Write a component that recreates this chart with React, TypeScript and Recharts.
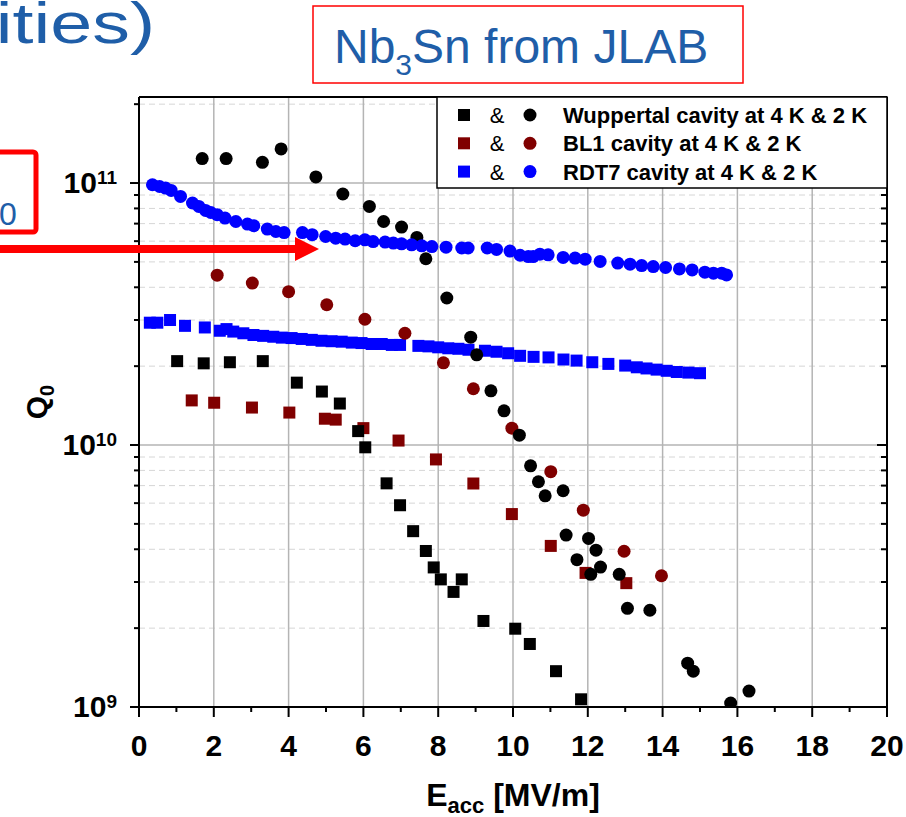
import React from "react";
import { ScatterChart, Scatter, XAxis, YAxis, CartesianGrid } from "recharts";

const FONT = "'Liberation Sans', Arial, sans-serif";
const NOTE_BLUE = "#1f5ea8";
const RED = "#ff0000";
const MAROON = "#800000";
const BLUE = "#0000ff";

// E_acc [MV/m], Q0
const wupp4K: [number, number][] = [
  [1.02, 2.09e10], [1.73, 2.05e10], [2.43, 2.07e10], [3.31, 2.09e10], [4.22, 1.73e10],
  [4.89, 1.6e10], [5.37, 1.44e10], [5.86, 1.13e10], [6.05, 9.8e9], [6.62, 7.14e9],
  [6.98, 5.89e9], [7.33, 4.69e9], [7.67, 3.94e9], [7.88, 3.41e9], [8.07, 3.07e9],
  [8.41, 2.75e9], [8.63, 3.07e9], [9.21, 2.13e9], [10.06, 1.99e9], [10.45, 1.74e9],
  [11.15, 1.37e9], [11.82, 1.07e9],
];
const wupp2K: [number, number][] = [
  [1.69, 1.24e11], [2.33, 1.24e11], [3.3, 1.2e11], [3.8, 1.35e11], [4.73, 1.055e11],
  [5.45, 9.08e10], [6.16, 8.14e10], [6.54, 7.13e10], [7.02, 6.79e10], [7.43, 6.2e10],
  [7.67, 5.14e10], [8.23, 3.64e10], [8.87, 2.58e10], [9.03, 2.21e10], [9.41, 1.61e10],
  [9.76, 1.35e10], [10.17, 1.09e10], [10.47, 8.33e9], [10.68, 7.24e9], [10.86, 6.4e9],
  [11.34, 6.69e9], [11.42, 4.53e9], [11.71, 3.65e9], [12.02, 4.4e9], [12.08, 3.21e9],
  [12.22, 3.97e9], [12.34, 3.42e9], [12.84, 3.21e9], [13.06, 2.38e9], [13.66, 2.34e9],
  [14.67, 1.47e9], [14.82, 1.37e9], [15.82, 1.035e9], [16.31, 1.15e9],
];
const bl1_4K: [number, number][] = [
  [1.41, 1.48e10], [2.01, 1.45e10], [3.02, 1.39e10], [4.02, 1.33e10], [4.97, 1.26e10],
  [5.26, 1.25e10], [6.0, 1.16e10], [6.94, 1.04e10], [7.94, 8.81e9], [8.94, 7.13e9],
  [9.97, 5.45e9], [11.01, 4.12e9], [11.94, 3.25e9], [13.03, 2.97e9],
];
const bl1_2K: [number, number][] = [
  [2.09, 4.45e10], [3.03, 4.15e10], [4.0, 3.85e10], [5.02, 3.43e10], [6.04, 3.02e10],
  [7.11, 2.67e10], [8.14, 2.06e10], [8.94, 1.64e10], [9.97, 1.16e10], [11.01, 7.91e9],
  [11.88, 5.64e9], [12.97, 3.93e9], [13.97, 3.17e9],
];
const rdt7_4K: [number, number][] = [
  [0.29, 2.93e10], [0.49, 2.93e10], [0.83, 3.0e10], [1.23, 2.85e10], [1.76, 2.81e10],
  [2.16, 2.73e10], [2.34, 2.77e10], [2.52, 2.71e10], [2.79, 2.67e10], [3.06, 2.63e10],
  [3.32, 2.61e10], [3.59, 2.59e10], [3.82, 2.57e10], [4.08, 2.56e10], [4.35, 2.54e10],
  [4.62, 2.52e10], [4.88, 2.5e10], [5.15, 2.49e10], [5.42, 2.48e10], [5.69, 2.46e10],
  [5.95, 2.45e10], [6.22, 2.43e10], [6.49, 2.43e10], [6.76, 2.41e10], [6.98, 2.41e10],
  [7.47, 2.39e10], [7.74, 2.38e10], [8.0, 2.36e10], [8.27, 2.34e10], [8.54, 2.33e10],
  [8.81, 2.31e10], [9.25, 2.29e10], [9.56, 2.27e10], [9.87, 2.24e10], [10.19, 2.19e10],
  [10.55, 2.17e10], [10.95, 2.16e10], [11.35, 2.12e10], [11.7, 2.1e10], [12.12, 2.07e10],
  [12.55, 2.04e10], [13.0, 2.01e10], [13.31, 1.98e10], [13.57, 1.96e10], [13.84, 1.94e10],
  [14.11, 1.92e10], [14.38, 1.9e10], [14.69, 1.89e10], [15.0, 1.88e10],
];
const rdt7_2K: [number, number][] = [
  [0.36, 9.85e10], [0.55, 9.7e10], [0.71, 9.57e10], [0.86, 9.37e10], [1.11, 8.89e10],
  [1.43, 8.39e10], [1.6, 8.14e10], [1.78, 7.86e10], [1.92, 7.72e10], [2.09, 7.57e10],
  [2.3, 7.35e10], [2.59, 7.13e10], [2.9, 6.97e10], [3.07, 6.87e10], [3.43, 6.67e10],
  [3.66, 6.53e10], [3.88, 6.47e10], [4.37, 6.47e10], [4.63, 6.35e10], [4.99, 6.25e10],
  [5.26, 6.16e10], [5.51, 6.11e10], [5.78, 6.02e10], [6.04, 6.07e10], [6.26, 5.98e10],
  [6.58, 5.95e10], [6.8, 5.9e10], [7.02, 5.86e10], [7.29, 5.81e10], [7.56, 5.76e10],
  [7.83, 5.72e10], [8.21, 5.69e10], [8.63, 5.65e10], [8.8, 5.65e10], [9.31, 5.65e10],
  [9.56, 5.58e10], [9.92, 5.5e10], [10.19, 5.3e10], [10.41, 5.24e10], [10.54, 5.24e10],
  [10.72, 5.35e10], [10.94, 5.32e10], [11.34, 5.2e10], [11.66, 5.17e10], [11.93, 5.12e10],
  [12.33, 5.02e10], [12.8, 4.95e10], [13.13, 4.9e10], [13.44, 4.84e10], [13.75, 4.8e10],
  [14.08, 4.76e10], [14.45, 4.7e10], [14.79, 4.66e10], [15.13, 4.57e10], [15.36, 4.53e10],
  [15.58, 4.53e10], [15.71, 4.46e10],
];

const legendRows = [
  { color: "#000000", label: "Wuppertal cavity at 4 K & 2 K" },
  { color: MAROON, label: "BL1 cavity at 4 K & 2 K" },
  { color: BLUE, label: "RDT7 cavity at 4 K & 2 K" },
];

const xDomain: [number, number] = [0, 20];
const yDomain: [number, number] = [1e9, 2.13e11];
const xTicks = Array.from({ length: 21 }, (_, i) => i);
const yTicks = [
  1e9, 2e9, 3e9, 4e9, 5e9, 6e9, 7e9, 8e9, 9e9,
  1e10, 2e10, 3e10, 4e10, 5e10, 6e10, 7e10, 8e10, 9e10,
  1e11, 2e11,
];
const xMajorGrid = [2, 4, 6, 8, 10, 12, 14, 16, 18];
const yMajorGrid = [1e10, 1e11];
const yMinorGrid = yTicks.filter((v) => !isDecade(v));

function isDecade(v: number) {
  const l = Math.log10(v);
  return Math.abs(l - Math.round(l)) < 1e-9;
}

const toPts = (arr: [number, number][]) => arr.map(([x, q]) => ({ x, q }));

const square = (color: string) => (p: any) =>
  <rect x={p.cx - 6} y={p.cy - 6} width={12} height={12} fill={color} />;
const circle = (color: string) => (p: any) =>
  <circle cx={p.cx} cy={p.cy} r={6.5} fill={color} />;

const BottomTick = (props: any) => {
  const { x, y, payload } = props;
  const major = payload.value % 2 === 0;
  return (
    <g>
      <line x1={x} x2={x} y1={y} y2={y + (major ? 10 : 5)} stroke="#000" strokeWidth={2} />
      {major && (
        <text x={x} y={y + 49} textAnchor="middle" fontFamily={FONT} fontWeight="bold" fontSize={30} fill="#000">
          {payload.value}
        </text>
      )}
    </g>
  );
};

const TopTick = (props: any) => {
  const { x, y, payload } = props;
  const major = payload.value % 2 === 0;
  return <line x1={x} x2={x} y1={y} y2={y + (major ? 8 : 5)} stroke="#000" strokeWidth={2} />;
};

const LeftTick = (props: any) => {
  const { x, y, payload } = props;
  const v = payload.value;
  const major = isDecade(v);
  return (
    <g>
      <line x1={x - (major ? 9 : 5)} x2={x} y1={y} y2={y} stroke="#000" strokeWidth={2} />
      {major && (
        <text x={x - 22} y={y + 10} textAnchor="end" fontFamily={FONT} fontWeight="bold" fontSize={30} fill="#000">
          10
          <tspan fontSize={19} dy={-9}>{Math.round(Math.log10(v))}</tspan>
        </text>
      )}
    </g>
  );
};

const RightTick = (props: any) => {
  const { x, y, payload } = props;
  const major = isDecade(payload.value);
  return <line x1={x - (major ? 10 : 6)} x2={x} y1={y} y2={y} stroke="#000" strokeWidth={2} />;
};

const axisLine = { stroke: "#000", strokeWidth: 2 };

const App: React.FC = () => {
  return (
    <div style={{ position: "absolute", left: 0, top: 0, width: 906, height: 817, background: "#fff" }}>
      <ScatterChart width={906} height={817} margin={{ top: 96, right: 18, bottom: 109, left: 138 }}>
        <CartesianGrid horizontalValues={yMinorGrid} vertical={false} stroke="#d6d6d6" strokeDasharray="6 4" />
        <CartesianGrid horizontalValues={yMajorGrid} verticalValues={xMajorGrid} stroke="#b4b4b4" strokeWidth={1.5} />
        <XAxis
          dataKey="x"
          type="number"
          domain={xDomain}
          ticks={xTicks}
          interval={0}
          height={1}
          tickSize={0}
          tickMargin={0}
          axisLine={axisLine}
          tick={<BottomTick />}
        />
        <XAxis
          xAxisId="top"
          orientation="top"
          type="number"
          domain={xDomain}
          ticks={xTicks}
          interval={0}
          height={1}
          tickSize={0}
          tickMargin={0}
          axisLine={axisLine}
          tick={<TopTick />}
        />
        <YAxis
          dataKey="q"
          type="number"
          scale="log"
          domain={yDomain}
          allowDataOverflow
          ticks={yTicks}
          interval={0}
          width={1}
          tickSize={0}
          tickMargin={0}
          axisLine={axisLine}
          tick={<LeftTick />}
        />
        <YAxis
          yAxisId="right"
          orientation="right"
          type="number"
          scale="log"
          domain={yDomain}
          allowDataOverflow
          ticks={yTicks}
          interval={0}
          width={1}
          tickSize={0}
          tickMargin={0}
          axisLine={axisLine}
          tick={<RightTick />}
        />
        <Scatter data={toPts(rdt7_4K)} shape={square(BLUE)} isAnimationActive={false} />
        <Scatter data={toPts(bl1_4K)} shape={square(MAROON)} isAnimationActive={false} />
        <Scatter data={toPts(bl1_2K)} shape={circle(MAROON)} isAnimationActive={false} />
        <Scatter data={toPts(wupp4K)} shape={square("#000")} isAnimationActive={false} />
        <Scatter data={toPts(wupp2K)} shape={circle("#000")} isAnimationActive={false} />
        <Scatter data={toPts(rdt7_2K)} shape={circle(BLUE)} isAnimationActive={false} />
      </ScatterChart>

      <svg width={906} height={817} style={{ position: "absolute", left: 0, top: 0, pointerEvents: "none" }}>
        {/* legend */}
        <rect x={437} y={97} width={450} height={91} fill="#fff" stroke="#000" strokeWidth={1.5} />
        {legendRows.map((r, i) => {
          const cy = 115 + i * 28.3;
          return (
            <g key={r.label}>
              <rect x={458} y={cy - 6} width={12} height={12} fill={r.color} />
              <text x={497} y={cy + 8} textAnchor="middle" fontFamily={FONT} fontSize={22} fill="#000">&amp;</text>
              <circle cx={530} cy={cy} r={6.5} fill={r.color} />
              <text x={563} y={cy + 8} fontFamily={FONT} fontWeight="bold" fontSize={22} fill="#000">{r.label}</text>
            </g>
          );
        })}

        {/* axis titles */}
        <text x={513} y={806} textAnchor="middle" fontFamily={FONT} fontWeight="bold" fontSize={32} fill="#000">
          E<tspan fontSize={22} dy={7}>acc</tspan>
          <tspan dy={-7}> [MV/m]</tspan>
        </text>
        <text transform="translate(47,402) rotate(-90)" textAnchor="middle" fontFamily={FONT} fontWeight="bold" fontSize={30} fill="#000">
          Q<tspan fontSize={20} dy={7}>0</tspan>
        </text>

        {/* slide annotations */}
        <text transform="translate(155,43) scale(1.3,1)" textAnchor="end" fontFamily={FONT} fontSize={58} fill={NOTE_BLUE}>cavities)</text>
        <rect x={313} y={6} width={430} height={77} fill="#fff" stroke={RED} strokeWidth={1.5} />
        <text x={334} y={63} fontFamily={FONT} fontSize={48} fill={NOTE_BLUE}>
          Nb<tspan fontSize={30} dy={12}>3</tspan>
          <tspan dy={-12}>Sn from JLAB</tspan>
        </text>
        <rect x={-10} y={152} width={46} height={80} rx={3} fill="#fff" stroke={RED} strokeWidth={5} />
        <text x={-1} y={225} fontFamily={FONT} fontSize={32} fill={NOTE_BLUE}>0</text>
        <rect x={-5} y={245} width={301} height={8} fill={RED} />
        <polygon points="295,237 319,249 295,261" fill={RED} />
      </svg>
    </div>
  );
};

export default App;
